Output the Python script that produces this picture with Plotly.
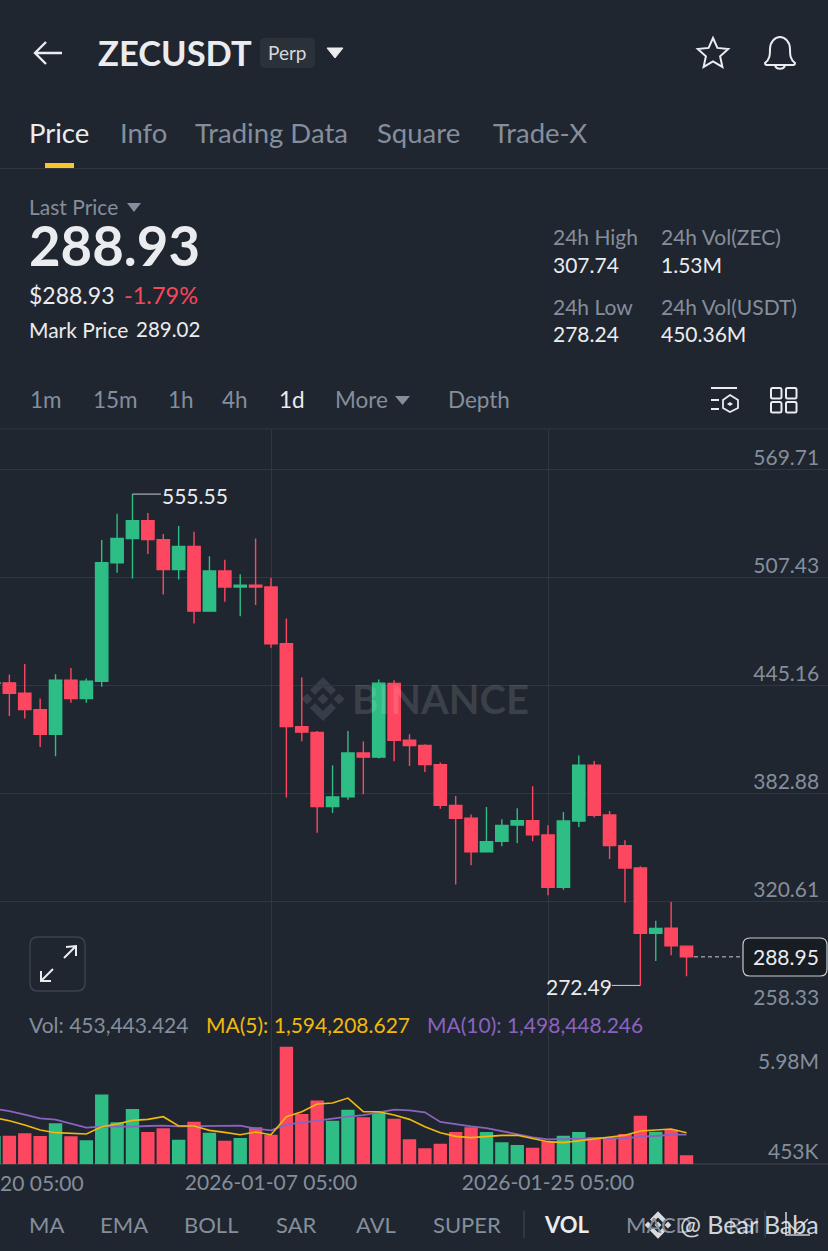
import math
import pandas as pd
import plotly.graph_objects as go

W, H = 828, 1251
BG = "#20262F"
GRID = "#313741"
GREY = "#848E9C"
WHITE = "#EAECEF"
GREEN = "#2EBD85"
RED = "#FD4760"
FONT = "Lato"

# daily candles
dates = pd.date_range("2025-12-20 05:00", periods=46, freq="D")
opens = [446.5, 446.8, 440.8, 431.4, 417.2, 448.3, 437.8, 447.7, 516.0, 530.0, 540.2, 529.2, 512.1, 525.4, 488.1, 511.2,
         502.0, 503.1, 502.0, 469.3, 421.6, 418.2, 375.5, 381.1, 406.4, 404.0, 446.4, 413.7, 410.7, 399.7, 376.1, 368.8,
         349.4, 355.5, 364.9, 367.4, 359.2, 329.0, 367.2, 399.3, 370.7, 353.0, 340.1, 302.5, 305.5, 295.1]
highs = [449.0, 451.6, 457.6, 437.8, 451.8, 455.4, 449.3, 529.1, 544.2, 555.55, 544.6, 532.5, 537.1, 533.9, 519.8, 517.7,
         509.4, 530.0, 507.3, 483.9, 449.9, 419.1, 399.3, 419.1, 413.0, 448.7, 448.3, 417.2, 411.4, 400.9, 381.6, 370.9,
         375.3, 368.2, 374.5, 387.2, 364.7, 372.4, 404.9, 401.8, 373.0, 356.1, 341.1, 309.7, 320.5, 295.5]
lows = [438.0, 427.7, 426.2, 409.9, 404.5, 435.3, 435.4, 444.5, 510.2, 506.9, 521.0, 497.7, 506.4, 481.0, 487.9, 493.5,
        485.2, 491.6, 467.0, 380.7, 413.1, 360.5, 371.8, 379.5, 382.6, 403.2, 401.6, 398.9, 395.5, 374.3, 330.7, 341.7,
        349.0, 352.6, 354.5, 355.5, 324.4, 327.6, 363.8, 369.3, 345.3, 320.1, 272.49, 286.5, 289.8, 277.8]
closes = [446.8, 440.8, 431.4, 417.2, 448.3, 437.8, 447.7, 516.0, 530.0, 540.2, 529.4, 512.1, 525.4, 488.1, 511.2, 502.0,
          503.1, 502.0, 469.3, 421.6, 418.4, 375.5, 381.1, 406.4, 404.0, 446.6, 413.7, 410.7, 399.7, 376.3, 368.8, 349.4,
          355.3, 364.7, 367.4, 359.3, 329.0, 367.2, 399.3, 370.5, 353.0, 340.1, 302.5, 305.3, 295.3, 288.95]
volumes = [1428e3, 1445e3, 1562e3, 1428e3, 2066e3, 1411e3, 1210e3, 3528e3, 2117e3, 2789e3, 1630e3, 1814e3, 1243e3, 2150e3,
           1596e3, 1193e3, 1327e3, 1865e3, 1495e3, 5930e3, 2537e3, 3226e3, 2201e3, 2755e3, 2369e3, 2604e3, 2302e3, 1260e3,
           806e3, 1042e3, 1630e3, 1865e3, 1630e3, 1109e3, 974e3, 840e3, 1159e3, 1445e3, 1630e3, 1361e3, 1294e3, 1529e3,
           2453e3, 1646e3, 1730e3, 453e3]
ma5 = [2352e3, 2201e3, 1982e3, 1730e3, 1596e3, 1562e3, 1529e3, 1898e3, 2033e3, 2218e3, 2268e3, 2402e3, 1932e3, 1932e3,
       1714e3, 1613e3, 1495e3, 1630e3, 1495e3, 2402e3, 2654e3, 3041e3, 3091e3, 3343e3, 2654e3, 2654e3, 2486e3, 2268e3,
       1898e3, 1596e3, 1411e3, 1344e3, 1394e3, 1462e3, 1462e3, 1310e3, 1142e3, 1092e3, 1193e3, 1294e3, 1361e3, 1462e3,
       1680e3, 1714e3, 1781e3, 1594e3]
ma10 = [2806e3, 2688e3, 2503e3, 2318e3, 2251e3, 2050e3, 1848e3, 1898e3, 1882e3, 1898e3, 1932e3, 1949e3, 1915e3, 1932e3,
        1949e3, 1949e3, 1949e3, 1798e3, 1714e3, 1999e3, 2100e3, 2218e3, 2335e3, 2402e3, 2486e3, 2638e3, 2755e3, 2722e3,
        2621e3, 2134e3, 2016e3, 1915e3, 1831e3, 1663e3, 1512e3, 1361e3, 1260e3, 1277e3, 1310e3, 1344e3, 1327e3, 1310e3,
        1394e3, 1428e3, 1495e3, 1498e3]

price_ticks = [569.71, 507.43, 445.16, 382.88, 320.61, 258.33]
date_ticks = ["2026-01-07 05:00", "2026-01-25 05:00"]
last_price = 288.95
high_label = 555.55
low_label = 272.49


def px(x):
    return x / W


def py(y):
    return 1 - y / H


fig = go.Figure()

fig.add_trace(go.Candlestick(
    x=dates, open=opens, high=highs, low=lows, close=closes,
    increasing=dict(line=dict(color=GREEN, width=1.4), fillcolor=GREEN),
    decreasing=dict(line=dict(color=RED, width=1.4), fillcolor=RED),
    whiskerwidth=0, showlegend=False, xaxis="x", yaxis="y",
))

bar_colors = [GREEN if c >= o else RED for o, c in zip(opens, closes)]
fig.add_trace(go.Bar(x=dates, y=volumes, marker=dict(color=bar_colors, line_width=0),
                     showlegend=False, xaxis="x2", yaxis="y2"))
fig.add_trace(go.Scatter(x=dates, y=ma10, mode="lines", line=dict(color="#8A63C0", width=1.8),
                         showlegend=False, xaxis="x2", yaxis="y2"))
fig.add_trace(go.Scatter(x=dates[:len(ma5)], y=ma5, mode="lines", line=dict(color="#F0B90B", width=1.6),
                         showlegend=False, xaxis="x2", yaxis="y2"))

# pixel calibration of the two panes
day_px = 15.39
anchor = pd.Timestamp(date_ticks[0])
x_start = anchor - pd.Timedelta(days=271 / day_px)
x_end = anchor + pd.Timedelta(days=(W - 271) / day_px)
price_per_px = (569.71 - 258.33) / (1010 - 469.5)
y_top = 569.71 + (469.5 - 429) * price_per_px
y_bot = 258.33 - (1010.5 - 1010) * price_per_px

axis_common = dict(range=[x_start, x_end], tickvals=date_ticks, showgrid=True, gridcolor=GRID, gridwidth=1,
                   zeroline=False, showline=False, type="date")

annos = []
shapes = []


def text(x, y, s, size=20, color=WHITE, anchor="left", weight=400, font=FONT):
    # annotations carry about 1.5 px of padding on the left
    annos.append(dict(xref="paper", yref="paper", x=px(x - 1.5), y=py(y), text=s, showarrow=False, xanchor=anchor,
                      yanchor="middle", borderpad=0, font=dict(size=size, color=color, family=font, weight=weight)))


def path(d, line=None, fill=None, width=1.5, layer="above"):
    # d uses screen pixels, converted here to paper coordinates
    out = []
    is_x = True
    for tok in d.split():
        if tok.isalpha():
            out.append(tok)
            is_x = True
        else:
            out.append(f"{px(float(tok)):.5f}" if is_x else f"{py(float(tok)):.5f}")
            is_x = not is_x
    shapes.append(dict(type="path", xref="paper", yref="paper", path=" ".join(out), layer=layer,
                       line=dict(color=line or "rgba(0,0,0,0)", width=width if line else 0),
                       fillcolor=fill or "rgba(0,0,0,0)"))


def rrect(x0, y0, x1, y1, r):
    return (f"M {x0 + r} {y0} L {x1 - r} {y0} Q {x1} {y0} {x1} {y0 + r} L {x1} {y1 - r} Q {x1} {y1} {x1 - r} {y1} "
            f"L {x0 + r} {y1} Q {x0} {y1} {x0} {y1 - r} L {x0} {y0 + r} Q {x0} {y0} {x0 + r} {y0} Z")


def hline(y, color=GRID, x0=0, x1=W, width=1):
    path(f"M {x0} {y} L {x1} {y}", line=color, width=width, layer="below")


def logo(cx, cy, s, color, layer="below"):
    d = s
    path(f"M {cx} {cy - 22 * d} L {cx + 13 * d} {cy - 9 * d} L {cx + 8 * d} {cy - 4 * d} L {cx} {cy - 12 * d} "
         f"L {cx - 8 * d} {cy - 4 * d} L {cx - 13 * d} {cy - 9 * d} Z", fill=color, layer=layer)
    path(f"M {cx} {cy + 22 * d} L {cx + 13 * d} {cy + 9 * d} L {cx + 8 * d} {cy + 4 * d} L {cx} {cy + 12 * d} "
         f"L {cx - 8 * d} {cy + 4 * d} L {cx - 13 * d} {cy + 9 * d} Z", fill=color, layer=layer)
    for off in (-16, 0, 16):
        r = 5.5 * d
        c = cx + off * d
        path(f"M {c} {cy - r} L {c + r} {cy} L {c} {cy + r} L {c - r} {cy} Z", fill=color, layer=layer)


# header
path("M 35 53 L 62 53 M 46 42 L 35 53 L 46 64", line=WHITE, width=2.4)
text(98.5, 52, "ZECUSDT", 34.5, WHITE, weight=700)
path(rrect(260, 38, 315, 68, 5), fill="#2B3139")
text(268, 53, "Perp", 19, "#D5D8DC")
path("M 327 48 L 343 48 L 335 58 Z", fill=WHITE, line=WHITE, width=1)
star = []
for k in range(10):
    r = 16 if k % 2 == 0 else 7.5
    a = -math.pi / 2 + k * math.pi / 5
    star.append(f"{713 + r * math.cos(a):.1f} {54 + r * math.sin(a):.1f}")
path("M " + " L ".join(star) + " Z", line=WHITE, width=2)
path("M 765 63 C 770 59 770 55 770 49 C 770 42 775 37 780 37 C 785 37 790 42 790 49 C 790 55 790 59 795 63 "
     "C 795 65 794 65 793 65 L 767 65 C 766 65 765 65 765 63 Z", line=WHITE, width=2)
path("M 775 65 C 776 70 784 70 785 65", line=WHITE, width=2)

for x, s, c in [(29, "Price", WHITE), (120, "Info", GREY), (195, "Trading Data", GREY),
                (377.5, "Square", GREY), (493, "Trade-X", GREY)]:
    text(x, 132, s, 27.5, c)
hline(168.5)
path("M 45 163 L 74 163 L 74 168 L 45 168 Z", fill="#F7C52E")

text(29, 207, "Last Price", 21, GREY)
path("M 127 203 L 141 203 L 134 212 Z", fill=GREY)
text(29, 245, "288.93", 54.5, WHITE, weight=700)
text(29, 295, "$288.93", 23, WHITE)
text(124, 295, "-1.79%", 23.5, "#F6465D")
text(29, 329, "Mark Price", 21, WHITE)
text(136, 329, "289.02", 20.5, WHITE)

for x, y, s, c in [(553, 237, "24h High", GREY), (553, 264, "307.74", WHITE), (661, 237, "24h Vol(ZEC)", GREY),
                   (661, 264, "1.53M", WHITE), (553, 306, "24h Low", GREY), (553, 333, "278.24", WHITE),
                   (661, 306, "24h Vol(USDT)", GREY), (661, 333, "450.36M", WHITE)]:
    text(x, y, s, 21, c)

for x, s, c in [(30, "1m", GREY), (93, "15m", GREY), (168, "1h", GREY), (222, "4h", GREY), (279, "1d", WHITE),
                (335, "More", GREY), (449, "Depth", GREY)]:
    text(x, 400, s, 22.5, c)
path("M 395 396 L 410 396 L 402.5 405 Z", fill=GREY)
path("M 711 388 L 737 388 M 711 400 L 719 400 M 711 409 L 719 409", line=WHITE, width=1.8)
path("M 730 395 L 738 400 L 738 408 L 730 412 L 723 408 L 723 400 Z", line=WHITE, width=1.8)
path("M 730 402 L 733 404 L 730 406 L 727 404 Z", fill=WHITE)
for x0 in (771, 786):
    for y0 in (388, 402):
        path(rrect(x0, y0, x0 + 10.5, y0 + 10.5, 1.5), line=WHITE, width=2)
hline(429)

# watermark sits behind the candles as far as plotly allows
logo(323, 699, 1.0, "#383E49")
text(352, 699, "BINANCE", 40, "rgba(255,255,255,0.13)", weight=700)

# price pane extras
fig.add_shape(type="line", xref="x", yref="y", x0=dates[9], x1=dates[9] + pd.Timedelta(days=1.85),
              y0=high_label, y1=high_label, line=dict(color="#C8CBD0", width=1))
annos.append(dict(xref="x", yref="y", x=dates[9], y=high_label, xshift=27.5, yshift=-1, text=f"{high_label:.2f}",
                  showarrow=False, xanchor="left", yanchor="middle", font=dict(size=21, color=WHITE, family=FONT)))
fig.add_shape(type="line", xref="x", yref="y", x0=dates[42], x1=dates[42] - pd.Timedelta(days=1.85),
              y0=low_label, y1=low_label, line=dict(color="#C8CBD0", width=1))
annos.append(dict(xref="x", yref="y", x=dates[42], y=low_label, xshift=-26, yshift=-1, text=f"{low_label:.2f}",
                  showarrow=False, xanchor="right", yanchor="middle", font=dict(size=21, color=WHITE, family=FONT)))

fig.add_shape(type="line", xref="paper", yref="y", x0=px(694), x1=px(742), y0=last_price, y1=last_price,
              line=dict(color="#C8CBD0", width=1, dash="4px,3px"))
path(rrect(743, 938, 827, 976, 7), line="#C8CBD0", fill="#181C23", width=1.2)
annos.append(dict(xref="paper", yref="y", x=px(821), y=last_price, text=f"{last_price:.2f}", showarrow=False,
                  xanchor="right", yanchor="middle", font=dict(size=21, color=WHITE, family=FONT)))

path(rrect(30, 937, 85, 991, 8), line="#3C434E", fill=BG, width=1.4)
path("M 41 981 L 53 969 M 41 971 L 41 981 L 51 981 M 64 958 L 76 946 M 66 947 L 76 946 L 76 956", line=WHITE, width=2)

# volume pane text
text(29, 1024.5, "Vol: 453,443.424", 21, GREY)
text(206, 1024.5, "MA(5): 1,594,208.627", 21, "#F0B90B")
text(427, 1024.5, "MA(10): 1,498,448.246", 21, "#8A63C0")
annos.append(dict(xref="paper", yref="y2", x=px(821), y=5.98e6, yshift=-15, text="5.98M", showarrow=False,
                  xanchor="right", yanchor="middle", font=dict(size=21, color=GREY, family=FONT)))
annos.append(dict(xref="paper", yref="y2", x=px(821), y=453e3, yshift=5, text="453K", showarrow=False,
                  xanchor="right", yanchor="middle", font=dict(size=21, color=GREY, family=FONT)))
text(0, 1182, "20 05:00", 21, GREY)

# indicator tabs
for x, s, c, w in [(29, "MA", GREY, 400), (100, "EMA", GREY, 400), (184, "BOLL", GREY, 400), (276, "SAR", GREY, 400),
                   (356, "AVL", GREY, 400), (433, "SUPER", GREY, 400), (544, "VOL", WHITE, 700),
                   (626, "MACD", GREY, 400), (728, "RSI", GREY, 400)]:
    text(x, 1224, s, 22, c, weight=w)
path("M 524 1211 L 524 1238 M 765 1211 L 765 1238", line="#3C434E", width=1.2)
path("M 786 1212 L 786 1235 L 810 1235", line="#C9CCD1", width=1.6)
path("M 790 1225 L 796 1231 L 808 1219", line="#C9CCD1", width=1.6)

# Bear Baba watermark
logo(658, 1225, 0.62, "#D8DADE", layer="above")
text(680, 1224, "@ Bear Baba", 25, "rgba(235,237,240,0.9)")

fig.update_layout(
    width=W, height=H, margin=dict(l=0, r=0, t=0, b=0), autosize=False,
    paper_bgcolor=BG, plot_bgcolor=BG, showlegend=False, bargap=0.13, boxgap=0.2, boxgroupgap=0,
    font=dict(family=FONT, color=GREY),
    xaxis=dict(axis_common, domain=[0, 1], anchor="y", showticklabels=False, rangeslider=dict(visible=False)),
    xaxis2=dict(axis_common, domain=[0, 1], anchor="y2", matches="x", ticktext=date_ticks, ticks="", ticklabelstandoff=4,
                tickfont=dict(size=21, color=GREY, family=FONT)),
    yaxis=dict(domain=[py(1010.5), py(429)], range=[y_bot, y_top], side="right", anchor="x", tickvals=price_ticks,
               ticktext=[f"{v:.2f}" for v in price_ticks], ticklabelposition="inside", ticklabelshift=-12, ticks="inside",
               ticklen=10, tickcolor="rgba(0,0,0,0)", showgrid=True, gridcolor=GRID, zeroline=False, showline=False,
               tickfont=dict(size=21, color=GREY, family=FONT)),
    yaxis2=dict(domain=[py(1164.3), py(1010.5)], range=[0, 154 * 50400], side="right", anchor="x2",
                showticklabels=False, showgrid=False, zeroline=True, zerolinecolor=GRID, showline=False),
)
for s in shapes:
    fig.add_shape(**s)
fig.update_layout(annotations=annos)

# page margin would shift the whole figure by 8 px
fig.write_html("out.html", config={"displayModeBar": False},
               post_script="document.body.style.margin='0';window.dispatchEvent(new Event('resize'));")
